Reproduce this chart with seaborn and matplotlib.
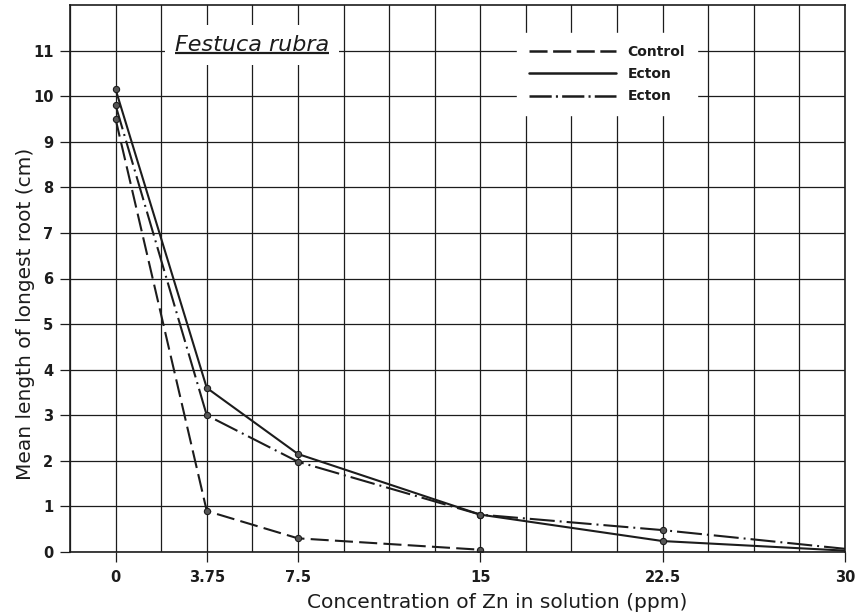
import matplotlib
matplotlib.use("Agg")
import matplotlib.pyplot as plt
from matplotlib.lines import Line2D
from matplotlib.ticker import MultipleLocator
import seaborn as sns

# values
conc_control = [0, 3.75, 7.5, 15]
control = [9.5, 0.9, 0.3, 0.05]
conc_ecton = [0, 3.75, 7.5, 15, 22.5, 30]
ecton_solid = [10.15, 3.6, 2.15, 0.82, 0.24, 0.03]
ecton_dashdot = [9.8, 3.0, 1.98, 0.82, 0.48, 0.07]

x_ticks = [0, 3.75, 7.5, 15, 22.5, 30]
x_tick_labels = ["0", "3.75", "7.5", "15", "22.5", "30"]
y_ticks = list(range(0, 12))
legend_labels = ["Control", "Ecton", "Ecton"]

sns.set_theme(style="white")
plt.rcParams["font.family"] = ["DejaVu Sans"]
plt.rcParams["lines.scale_dashes"] = False

ink = "#1c1c1c"
dash_control = (0, (13, 4.5))
dash_dot = (0, (18, 3.6, 1.4, 3.6))

fig = plt.figure(figsize=(8.63, 6.16), dpi=100)
ax = fig.add_axes([70 / 863, 64 / 616, 775 / 863, 547 / 616])

mk = dict(marker="o", markersize=4.5, markerfacecolor="#555555",
          markeredgecolor=ink, markeredgewidth=0.8, color=ink, lw=1.5)
sns.lineplot(x=conc_control, y=control, ax=ax, linestyle=dash_control, **mk)
sns.lineplot(x=conc_ecton, y=ecton_solid, ax=ax, linestyle="-",
             markevery=[0, 1, 2, 3, 4], **mk)
sns.lineplot(x=conc_ecton, y=ecton_dashdot, ax=ax, linestyle=dash_dot,
             markevery=[0, 1, 2, 3, 4], **mk)

# axes / grid like the graph paper
ax.set_xlim(-1.875, 30)
ax.set_ylim(0, 12)
ax.set_xticks(x_ticks)
ax.set_xticklabels(x_tick_labels)
ax.xaxis.set_minor_locator(MultipleLocator(1.875))
ax.set_yticks(y_ticks)
ax.grid(True, which="both", axis="x", color=ink, lw=0.9)
ax.grid(True, which="major", axis="y", color=ink, lw=0.9)
ax.set_axisbelow(True)
ax.tick_params(axis="x", which="minor", length=0)
ax.tick_params(which="major", direction="out", length=7, width=0.9,
               color=ink, labelcolor=ink, labelsize=10.5, bottom=True, left=True)
ax.tick_params(axis="x", pad=6)
ax.tick_params(axis="y", pad=5)
for lab in ax.get_xticklabels() + ax.get_yticklabels():
    lab.set_fontweight("bold")
for sp in ax.spines.values():
    sp.set_color(ink)
    sp.set_linewidth(1.2)

ax.set_xlabel("Concentration of Zn in solution (ppm)", fontsize=14.5, color=ink)
ax.xaxis.set_label_coords(0.551, -0.075)
ax.set_ylabel("Mean length of longest root (cm)", fontsize=14.5, color=ink)
ax.yaxis.set_label_coords(-0.045, 0.435)

# title box with underline
title = ax.text(5.62, 11.12, "Festuca rubra", ha="center", va="center",
                fontsize=16, style="italic", color=ink, zorder=5,
                bbox=dict(boxstyle="square,pad=0.45", fc="white", ec="none"))
fig.canvas.draw()
bb = title.get_window_extent(fig.canvas.get_renderer())
(x0, y0), (x1, y1) = ax.transData.inverted().transform([[bb.x0, bb.y0], [bb.x1, bb.y1]])
ax.hlines(y0 + 0.05, x0, x1, color=ink, lw=1.6, zorder=6)

# legend
handles = [Line2D([], [], color=ink, lw=1.8, linestyle=s)
           for s in [(0, (13, 4)), "-", (0, (16, 3, 1.5, 3))]]
ax.legend(handles, legend_labels, loc="upper left", bbox_to_anchor=(0.577, 0.949),
          borderaxespad=0, frameon=True, fancybox=False, framealpha=1,
          facecolor="white", edgecolor="white", handlelength=6.3,
          handletextpad=0.8, labelspacing=0.6, borderpad=0.85,
          prop={"size": 10, "weight": "bold"}, labelcolor=ink)

fig.savefig("out.png", dpi=100)
